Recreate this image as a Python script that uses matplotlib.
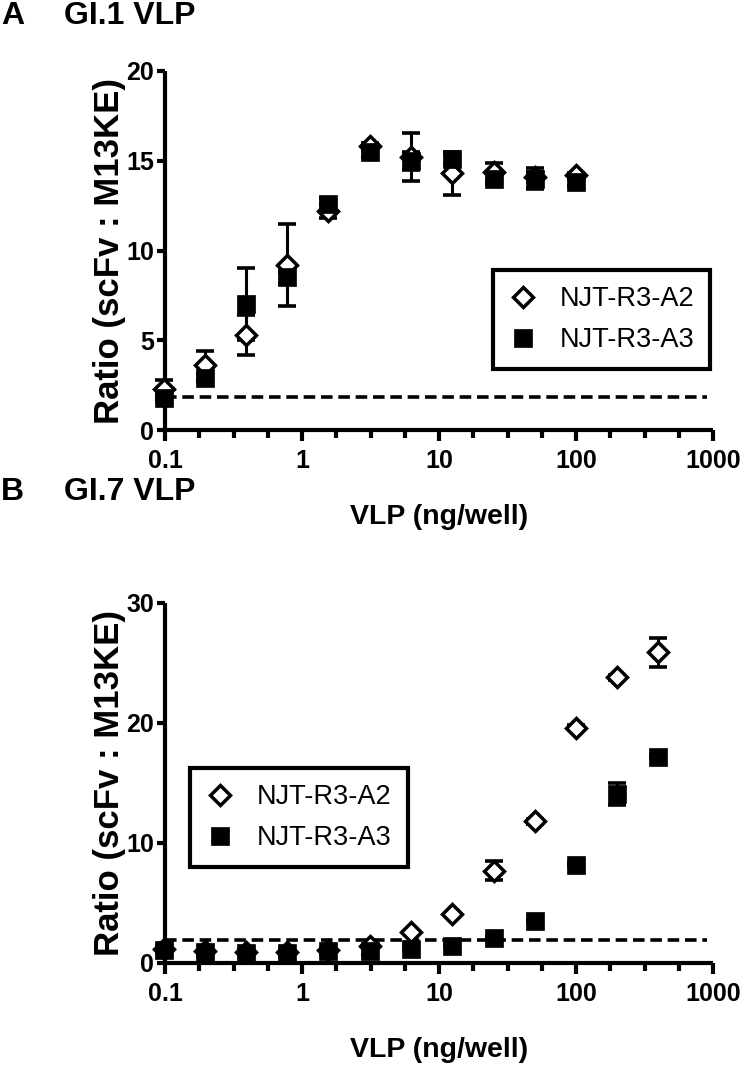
import matplotlib
matplotlib.use('Agg')
import matplotlib.pyplot as plt
import numpy as np
from matplotlib.ticker import FixedLocator, NullFormatter, FixedFormatter

plt.rcParams['font.family'] = ['Liberation Sans', 'DejaVu Sans']

# ---------------- data ----------------
series_names = ['NJT-R3-A2', 'NJT-R3-A3']

conc_a = [0.098, 0.195, 0.39, 0.78, 1.56, 3.125, 6.25, 12.5, 25, 50, 100]
a2_a = [2.3, 3.6, 5.3, 9.2, 12.2, 15.8, 15.2, 14.3, 14.4, 14.1, 14.2]
a2_a_err = [0.5, 0.8, 1.1, 2.3, 0.4, 0.2, 1.35, 1.2, 0.5, 0.3, 0.1]
a3_a = [1.8, 2.9, 7.0, 8.5, 12.6, 15.5, 15.0, 15.1, 14.0, 14.0, 13.8]
a3_a_err = [0.2, 0.2, 2.0, 0.3, 0.3, 0.3, 0.5, 0.3, 0.3, 0.6, 0.2]
cutoff_a = 1.85

conc_b = [0.098, 0.195, 0.39, 0.78, 1.56, 3.125, 6.25, 12.5, 25, 50, 100, 200, 400]
a2_b = [1.2, 1.0, 0.9, 0.9, 1.1, 1.4, 2.6, 4.1, 7.7, 11.8, 19.6, 23.8, 25.9]
a2_b_err = [0.2, 0.1, 0.1, 0.1, 0.1, 0.1, 0.1, 0.1, 0.8, 0.2, 0.2, 0.2, 1.2]
a3_b = [1.1, 0.9, 0.85, 0.85, 1.0, 1.0, 1.2, 1.4, 2.1, 3.5, 8.2, 14.1, 17.2]
a3_b_err = [0.25, 0.25, 0.25, 0.25, 0.25, 0.3, 0.1, 0.1, 0.1, 0.1, 0.1, 0.9, 0.1]
cutoff_b = 1.9

x_ticks = [0.1, 1, 10, 100, 1000]
x_ticklabels = ['0.1', '1', '10', '100', '1000']
y_ticks_a = [0, 5, 10, 15, 20]
y_ticks_b = [0, 10, 20, 30]

panel_letters = ['A', 'B']
panel_titles = ['GI.1 VLP', 'GI.7 VLP']
xlabel = 'VLP (ng/well)'
ylabel = 'Ratio (scFv : M13KE)'

# ---------------- figure ----------------
W, H = 741, 1066
fig = plt.figure(figsize=(W / 100, H / 100), dpi=100)

def px_axes(left, right, top, bottom):
    return fig.add_axes([left / W, 1 - bottom / H, (right - left) / W, (bottom - top) / H])

axA = px_axes(165, 713, 71, 430)
axB = px_axes(165, 713, 603, 963)

LW = 3.0
minor = [10 ** (k + f) for k in range(-1, 3) for f in (0.25, 0.5, 0.75)]


def style(ax, yticks):
    ax.set_xscale('log')
    ax.set_xlim(0.1, 1000)
    ax.set_ylim(yticks[0], yticks[-1])
    for s in ('top', 'right'):
        ax.spines[s].set_visible(False)
    for s in ('left', 'bottom'):
        ax.spines[s].set_linewidth(LW)
        ax.spines[s].set_capstyle('butt')
    ax.xaxis.set_major_locator(FixedLocator(x_ticks))
    ax.xaxis.set_major_formatter(FixedFormatter(x_ticklabels))
    ax.xaxis.set_minor_locator(FixedLocator(minor))
    ax.xaxis.set_minor_formatter(NullFormatter())
    ax.set_yticks(yticks)
    ax.tick_params(axis='x', which='major', length=8, width=LW, direction='out', pad=6,
                   labelsize=18)
    ax.tick_params(axis='x', which='minor', length=6, width=LW, direction='out')
    ax.tick_params(axis='y', which='major', length=6, width=LW, direction='out', pad=2,
                   labelsize=18)
    for lab in ax.get_xticklabels() + ax.get_yticklabels():
        lab.set_fontweight('bold')
    ax.set_xlabel(xlabel, fontsize=20.5, fontweight='bold')
    ax.set_ylabel(ylabel, fontsize=25, fontweight='bold')


def draw(ax, conc, y2, e2, y3, e3, cutoff, legend_loc, anchor):
    ax.plot([0.1, 900], [cutoff, cutoff], color='black', lw=2.6, ls=(0, (3.2, 1.6)),
            zorder=1, clip_on=False)
    eb_kw = dict(fmt='none', ecolor='black', elinewidth=2.2, capsize=6.5, capthick=2.6,
                 clip_on=False)
    c1 = ax.errorbar(conc, y2, yerr=e2, zorder=2, **eb_kw)
    c2 = ax.errorbar(conc, y3, yerr=e3, zorder=2, **eb_kw)
    for c in (c1, c2):
        for art in c.get_children():
            art.set_clip_on(False)
    h2, = ax.plot(conc, y2, ls='none', marker='D', ms=10, mfc='white', mec='black',
                  mew=2.5, zorder=3, clip_on=False, label=series_names[0])
    h3, = ax.plot(conc, y3, ls='none', marker='s', ms=13.5, mfc='black', mec='black',
                  mew=0.5, zorder=4, clip_on=False, label=series_names[1])
    leg = ax.legend(handles=[h2, h3], loc=legend_loc, bbox_to_anchor=anchor,
                    fontsize=19.5, frameon=True, fancybox=False, edgecolor='black',
                    framealpha=1, borderpad=0.6, labelspacing=0.55, handlelength=1.0,
                    handletextpad=0.85, borderaxespad=0, markerscale=1.0)
    leg.get_frame().set_linewidth(3.0)


style(axA, y_ticks_a)
style(axB, y_ticks_b)
draw(axA, conc_a, a2_a, a2_a_err, a3_a, a3_a_err, cutoff_a, 'upper right', (0.995, 0.446))
draw(axB, conc_b, a2_b, a2_b_err, a3_b, a3_b_err, cutoff_b, 'upper left', (0.046, 0.542))

for ax in (axA, axB):
    ax.yaxis.set_label_coords(-0.072, 0.5)
    ax.xaxis.set_label_coords(0.5, -0.205)

# titles
fig.text(1 / W, 1 - 16 / H, panel_letters[0], fontsize=23, fontweight='bold', va='center', ha='left')
fig.text(64 / W, 1 - 16 / H, panel_titles[0], fontsize=23, fontweight='bold', va='center', ha='left')
fig.text(1 / W, 1 - 492 / H, panel_letters[1], fontsize=23, fontweight='bold', va='center', ha='left')
fig.text(64 / W, 1 - 492 / H, panel_titles[1], fontsize=23, fontweight='bold', va='center', ha='left')

fig.savefig('out.png', dpi=100)
